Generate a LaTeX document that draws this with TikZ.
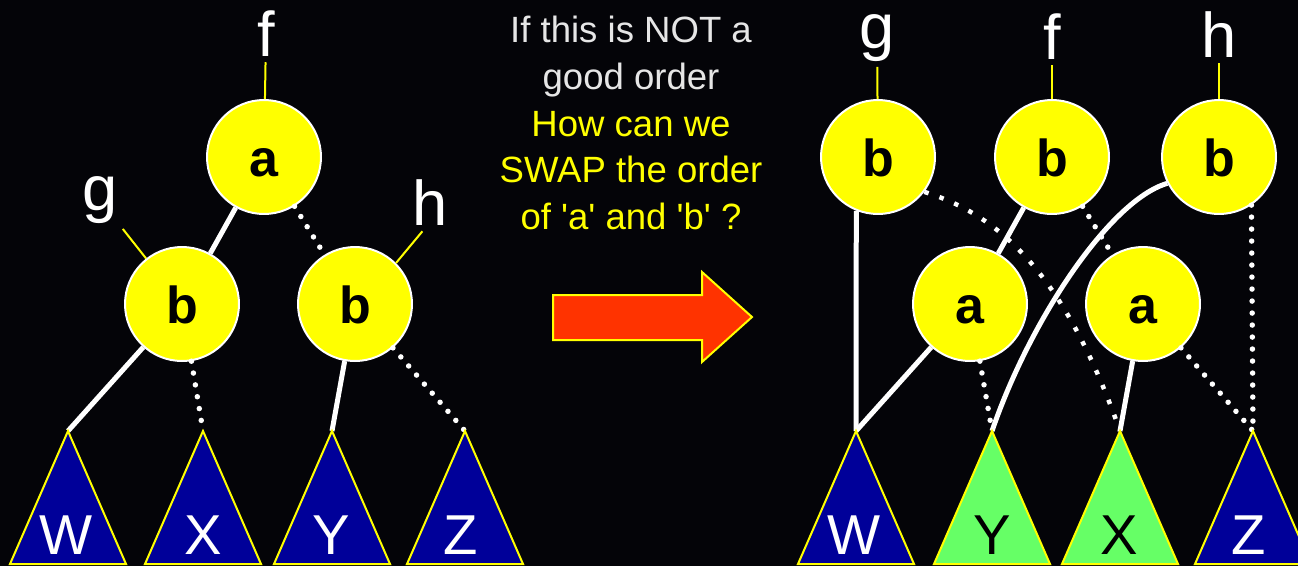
\documentclass[tikz,border=0pt]{standalone}
\usepackage{fontspec}
\setmainfont{Liberation Sans}
\usepackage{xcolor}
\usepackage{tikz}
\usetikzlibrary{arrows.meta, positioning, calc}
\definecolor{nodeyellow}{RGB}{255, 255, 0}
\definecolor{subblue}{RGB}{0, 0, 153}
\definecolor{subgreen}{RGB}{102, 255, 102}
\definecolor{arrowred}{RGB}{255, 51, 0}
\definecolor{textgray}{RGB}{230, 230, 230}
\definecolor{bgblack}{RGB}{4, 4, 8}

\begin{document}
\begin{tikzpicture}[
    x=0.02cm, y=-0.02cm,
    keynode/.style={circle, draw=white, fill=nodeyellow, line width=0.04cm,
                    minimum size=2.28cm, inner sep=0pt,
                    text height=0.76cm, text depth=0cm,
                    font=\fontsize{29.6}{34}\selectfont\bfseries},
    link/.style={white, line width=0.1cm},
    dotlink/.style={white, line width=0.11cm, line cap=round,
                    dash pattern=on 0cm off 0.24cm},
    sqlink/.style={white, line width=0.09cm, dash pattern=on 0.09cm off 0.23cm},
    ptr/.style={nodeyellow, line width=0.04cm},
    lbl/.style={text=white, inner sep=0.1cm, font=\fontsize{36}{40}\selectfont},
    tri/.style={draw=nodeyellow, fill=#1, line width=0.04cm},
    leaf/.style={inner sep=0pt, font=\fontsize{32}{36}\selectfont}
  ]

  \useasboundingbox (0,0) rectangle (1298,566);
  \fill[bgblack] (0,0) rectangle (1298,566);

  % Left tree
  \node[keynode] (a)  at (264,157) {a};
  \node[keynode] (bl) at (182,304) {b};
  \node[keynode] (br) at (355,304) {b};
  \node[lbl] (f) at (266,34)  {f};
  \node[lbl] (g) at (100,200) {g};
  \node[lbl] (h) at (430,203) {h};
  \draw[ptr] (f) -- (a);
  \draw[ptr] (g) -- (bl);
  \draw[ptr] (h.-105) -- (br.45);

  \coordinate (wl) at (68,431);
  \coordinate (xl) at (203,431);
  \coordinate (yl) at (332,431);
  \coordinate (zl) at (465,431);

  \draw[link]    (a) -- (bl);
  \draw[dotlink] (a) -- (br);
  \draw[link]    (bl) -- (wl);
  \draw[dotlink] (bl) -- (xl);
  \draw[link]    (br) -- (yl);
  \draw[dotlink] (br) -- (zl);

  \draw[tri=subblue] (wl) -- ++(58,133) -- ++(-116,0) -- cycle;
  \draw[tri=subblue] (xl) -- ++(58,133) -- ++(-116,0) -- cycle;
  \draw[tri=subblue] (yl) -- ++(58,133) -- ++(-116,0) -- cycle;
  \draw[tri=subblue] (zl) -- ++(58,133) -- ++(-116,0) -- cycle;
  \node[leaf, text=white] (wltxt) at (66,535)  {W};
  \node[leaf, text=white] (xltxt) at (203,535) {X};
  \node[leaf, text=white] (yltxt) at (331,535) {Y};
  \node[leaf, text=white] (zltxt) at (461,535) {Z};

  % Question and arrow
  \node[font=\fontsize{20.8}{26.5}\selectfont, text=nodeyellow, align=center,
        inner sep=0pt] (question) at (631,123)
    {\textcolor{textgray}{If this is NOT a}\\
     \textcolor{textgray}{good order}\\
     How can we\\
     SWAP the order\\
     of \textquotesingle a\textquotesingle{} and \textquotesingle b\textquotesingle{} ?};
  \draw[draw=nodeyellow, fill=arrowred, line width=0.04cm]
    (553,295) -- (702,295) -- (702,272) -- (752,317) -- (702,362)
    -- (702,340) -- (553,340) -- cycle;

  % Right tree
  \node[keynode] (bg) at (878,157)  {b};
  \node[keynode] (bf) at (1052,157) {b};
  \node[keynode] (bh) at (1219,157) {b};
  \node[keynode] (al) at (970,304)  {a};
  \node[keynode] (ar) at (1143,304) {a};
  \node[lbl] (gr) at (877,38)  {g};
  \node[lbl] (fr) at (1052,37) {f};
  \node[lbl] (hr) at (1219,35) {h};
  \draw[ptr] (gr) -- (bg);
  \draw[ptr] (fr) -- (bf);
  \draw[ptr] (hr) -- (bh);

  \coordinate (wr) at (856,431);
  \coordinate (yr) at (992,431);
  \coordinate (xr) at (1120,431);
  \coordinate (zr) at (1253,431);

  \draw[link]    (bg.-112) -- (wr);
  \draw[link]    (al) -- (wr);
  \draw[link]    (bf) -- (al);
  \draw[dotlink] (bf) -- (ar);
  \draw[dotlink] (al) -- (yr);
  \draw[link]    (ar) -- (xr);
  \draw[dotlink] (ar) -- (zr);
  \draw[dotlink] (bh.-56) -- (zr);
  \draw[link]   (bh.-153) .. controls (1110,200) and (1030,320) .. (yr);
  \draw[sqlink] (bg.-37) .. controls (1000,215) and (1065,275) .. (xr);

  \draw[tri=subblue]  (wr) -- ++(58,133) -- ++(-116,0) -- cycle;
  \draw[tri=subgreen] (yr) -- ++(58,133) -- ++(-116,0) -- cycle;
  \draw[tri=subgreen] (xr) -- ++(58,133) -- ++(-116,0) -- cycle;
  \draw[tri=subblue]  (zr) -- ++(58,133) -- ++(-116,0) -- cycle;
  \node[leaf, text=white] (wrtxt) at (854,535)  {W};
  \node[leaf, text=black] (yrtxt) at (992,535)  {Y};
  \node[leaf, text=black] (xrtxt) at (1119,535) {X};
  \node[leaf, text=white] (zrtxt) at (1249,535) {Z};

\end{tikzpicture}
\end{document}
